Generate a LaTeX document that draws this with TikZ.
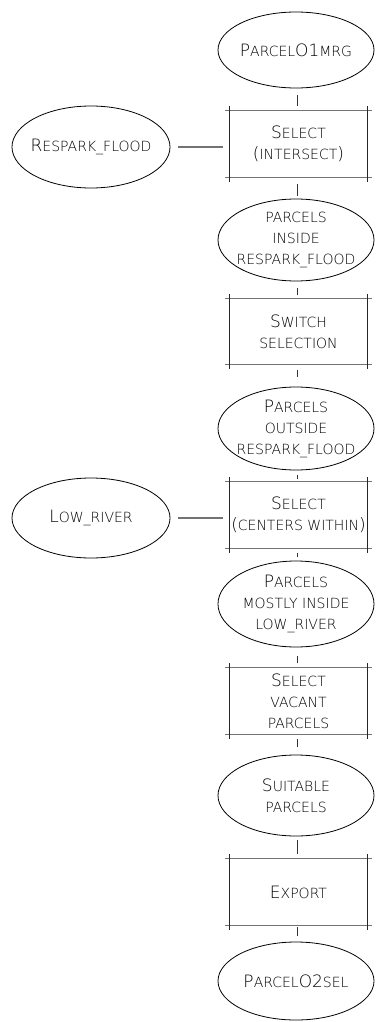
\documentclass[tikz,border=0pt]{standalone}
\usepackage{fontspec}
\setmainfont{DejaVu Sans ExtraLight}
\usetikzlibrary{shapes.geometric,calc}
\newcommand\smc[1]{{\fontsize{14}{21}\selectfont #1}}
\begin{document}
\begin{tikzpicture}[x=1pt,y=-1pt,
  ell/.style={ellipse,draw=black,line width=0.8pt,minimum width=156pt,inner sep=0pt},
  txt/.style={align=center,font=\fontsize{17}{21}\selectfont,inner sep=0pt,text=black},
  boxn/.style={rectangle,minimum width=137pt,minimum height=66pt,inner sep=0pt,align=center,
    font=\fontsize{17}{21}\selectfont,text=black},
  hline/.style={line width=1.3pt,draw=black!55},
  vline/.style={line width=0.9pt,draw=black!85},
  conn/.style={line width=0.9pt,draw=black!80},
  hconn/.style={line width=1.1pt,draw=black!55}]
\useasboundingbox (0,0) rectangle (375,1022);

% main column
\node[ell,minimum height=76pt] (e1) at (296,50) {};
\node[txt] (e1t) at (e1) {P\smc{ARCEL}O1\smc{MRG}};
\node[boxn] (b1) at (298.5,144) {S\smc{ELECT}\\(\smc{INTERSECT})};
\node[ell,minimum height=82pt] (e2) at (296,240) {};
\node[txt] (e2t) at (e2) {\smc{PARCELS}\\\smc{INSIDE}\\\smc{RESPARK\_FLOOD}};
\node[boxn] (b2) at (298.5,331.5) {S\smc{WITCH}\\\smc{SELECTION}};
\node[ell,minimum height=83pt] (e3) at (296,428.5) {};
\node[txt] (e3t) at (e3) {P\smc{ARCELS}\\\smc{OUTSIDE}\\\smc{RESPARK\_FLOOD}};
\node[boxn] (b3) at (298.5,515) {S\smc{ELECT}\\(\smc{CENTERS WITHIN})};
\node[ell,minimum height=86pt] (e4) at (296,604) {};
\node[txt] (e4t) at (e4) {P\smc{ARCELS}\\\smc{MOSTLY INSIDE}\\\smc{LOW\_RIVER}};
\node[boxn] (b4) at (298.5,701) {S\smc{ELECT}\\\smc{VACANT}\\\smc{PARCELS}};
\node[ell,minimum height=81pt] (e5) at (296,795.5) {};
\node[txt] (e5t) at (e5) {S\smc{UITABLE}\\\smc{PARCELS}};
\node[boxn] (b5) at (298.5,892) {E\smc{XPORT}};
\node[ell,minimum height=78pt] (e6) at (296,981) {};
\node[txt] (e6t) at (e6) {P\smc{ARCEL}O2\smc{SEL}};

% side inputs
\node[ell,minimum width=158pt,minimum height=82pt] (r1) at (91,147) {};
\node[txt] (r1t) at (r1) {R\smc{ESPARK\_FLOOD}};
\node[ell,minimum width=158pt,minimum height=80pt] (l1) at (91,518) {};
\node[txt] (l1t) at (l1) {L\smc{OW\_RIVER}};

% sketchy box borders
\foreach \b in {b1,b2,b3,b4,b5}{
  \draw[hline] ([xshift=-4.5pt]\b.north west) -- ([xshift=4.5pt]\b.north east);
  \draw[hline] ([xshift=-4.5pt]\b.south west) -- ([xshift=4.5pt]\b.south east);
  \draw[vline] ([yshift=4.5pt]\b.north west) -- ([yshift=-4.5pt]\b.south west);
  \draw[vline] ([yshift=4.5pt]\b.north east) -- ([yshift=-4.5pt]\b.south east);
}

% vertical connectors
\foreach \a/\c/\s/\t in {e1/b1/7/5, b1/e2/7/3, e2/b2/7/3, b2/e3/5/10, e3/b3/5/3,
                         b3/e4/5/4, e4/b4/9/5, b4/e5/5/8, e5/b5/4/5, b5/e6/2/6}{
  \draw[conn,shorten <=\s pt,shorten >=\t pt] (\a.south -| 297.5,0) -- (\c.north -| 297.5,0);
}

% horizontal connectors
\draw[hconn,shorten <=8pt,shorten >=7pt] (r1.east) -- (r1.east -| b1.west);
\draw[hconn,shorten <=8pt,shorten >=7pt] (l1.east) -- (l1.east -| b3.west);
\end{tikzpicture}
\end{document}
